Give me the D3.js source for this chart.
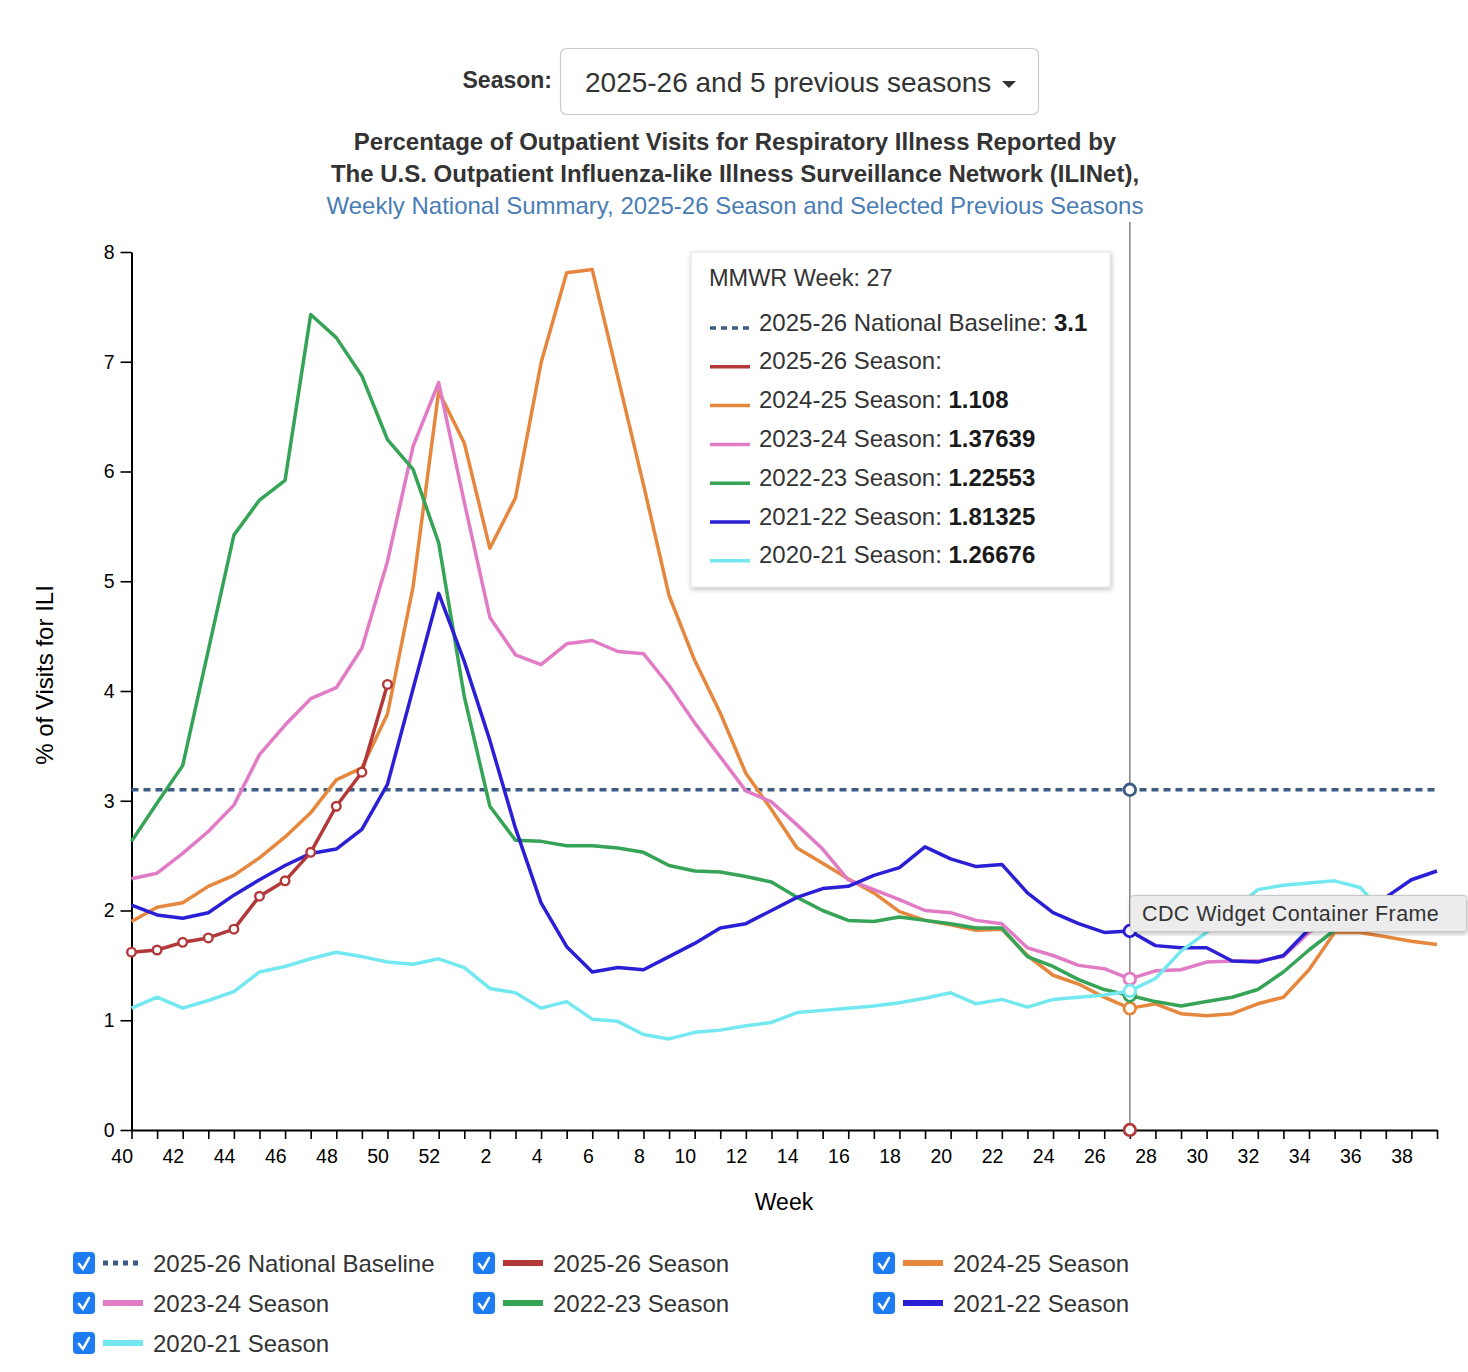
<!DOCTYPE html>
<html>
<head>
<meta charset="utf-8">
<script src="https://cdn.jsdelivr.net/npm/d3@7"></script>
<style>
  body { margin: 0; background: #fff; font-family: "Liberation Sans", Arial, sans-serif; }
</style>
</head>
<body>
<svg id="chart" width="1468" height="1372"></svg>
<script>
// MMWR weeks, season runs week 40 -> week 39
const weeks = [40,41,42,43,44,45,46,47,48,49,50,51,52,1,2,3,4,5,6,7,8,9,10,11,12,13,14,15,16,17,18,19,20,21,22,23,24,25,26,27,28,29,30,31,32,33,34,35,36,37,38,39];
const yTicks = [0,1,2,3,4,5,6,7,8];
const baselineValue = 3.1;
const hoverIndex = 39; // week 27

const s2526 = [1.62,1.64,1.71,1.75,1.83,2.13,2.27,2.53,2.95,3.26,4.06];
const s2425 = [1.90,2.03,2.07,2.22,2.32,2.48,2.67,2.89,3.19,3.30,3.79,4.95,6.73,6.26,5.30,5.76,6.99,7.81,7.84,6.86,5.88,4.87,4.28,3.80,3.25,2.92,2.57,2.43,2.29,2.16,1.99,1.91,1.87,1.82,1.83,1.59,1.41,1.33,1.21,1.108,1.15,1.06,1.04,1.06,1.15,1.21,1.46,1.80,1.80,1.76,1.72,1.69];
const s2324 = [2.29,2.34,2.52,2.72,2.96,3.42,3.69,3.93,4.03,4.39,5.18,6.23,6.81,5.72,4.67,4.33,4.24,4.43,4.46,4.36,4.34,4.05,3.71,3.40,3.09,2.99,2.78,2.56,2.28,2.19,2.10,2.00,1.98,1.91,1.88,1.66,1.59,1.50,1.47,1.37639,1.45,1.46,1.53,1.54,1.54,1.58,1.80,1.92,1.97,2.00,2.02,2.04];
const s2223 = [2.63,2.98,3.32,4.37,5.42,5.74,5.92,7.43,7.22,6.87,6.29,6.02,5.35,3.95,2.95,2.64,2.63,2.59,2.59,2.57,2.53,2.41,2.36,2.35,2.31,2.26,2.12,2.00,1.91,1.90,1.94,1.91,1.88,1.84,1.84,1.58,1.49,1.37,1.28,1.22553,1.17,1.13,1.17,1.21,1.28,1.44,1.64,1.82,1.88,1.93,1.97,2.00];
const s2122 = [2.05,1.96,1.93,1.98,2.14,2.28,2.41,2.52,2.56,2.74,3.15,4.02,4.89,4.27,3.55,2.75,2.07,1.67,1.44,1.48,1.46,1.58,1.70,1.84,1.88,2.00,2.12,2.20,2.22,2.32,2.39,2.58,2.47,2.40,2.42,2.16,1.98,1.88,1.80,1.81325,1.68,1.66,1.66,1.54,1.53,1.59,1.83,1.98,2.05,2.12,2.28,2.36];
const s2021 = [1.11,1.21,1.11,1.18,1.26,1.44,1.49,1.56,1.62,1.58,1.53,1.51,1.56,1.48,1.29,1.25,1.11,1.17,1.01,0.99,0.87,0.83,0.89,0.91,0.95,0.98,1.07,1.09,1.11,1.13,1.16,1.20,1.25,1.15,1.19,1.12,1.19,1.21,1.23,1.26676,1.38,1.63,1.80,2.00,2.19,2.23,2.25,2.27,2.21,1.95,1.87,1.84];

const seasonNames = ["2025-26 Season","2024-25 Season","2023-24 Season","2022-23 Season","2021-22 Season","2020-21 Season"];
const seasonValues = [s2526, s2425, s2324, s2223, s2122, s2021];
const seasonColors = ["#b2383a","#e6873e","#e27bc6","#36a456","#2b1fd6","#74e8f0"];
const tipValues = ["", "1.108", "1.37639", "1.22553", "1.81325", "1.26676"];
const baselineName = "2025-26 National Baseline";
const baselineColor = "#3b5b82";

const svg = d3.select("#chart");
const font = "'Liberation Sans', Arial, sans-serif";

const x = d3.scaleLinear().domain([0, weeks.length - 1]).range([131.5, 1437]);
const y = d3.scaleLinear().domain([0, 8]).range([1130, 252]);

// season selector
svg.append("text").attr("x", 552).attr("y", 88).attr("text-anchor", "end")
  .attr("font-size", 23).attr("font-weight", "bold").attr("fill", "#333").text("Season:");
svg.append("rect").attr("x", 560.5).attr("y", 48.5).attr("width", 478).attr("height", 66).attr("rx", 6)
  .attr("fill", "#fff").attr("stroke", "#ccc").attr("stroke-width", 1.2);
svg.append("text").attr("x", 585).attr("y", 92).attr("font-size", 28).attr("fill", "#333")
  .text("2025-26 and 5 previous seasons");
svg.append("path").attr("d", "M1002,81L1016,81L1009,88Z").attr("fill", "#333");

// titles
const titles = [
  ["Percentage of Outpatient Visits for Respiratory Illness Reported by", 150, "bold", "#333"],
  ["The U.S. Outpatient Influenza-like Illness Surveillance Network (ILINet),", 182, "bold", "#333"],
  ["Weekly National Summary, 2025-26 Season and Selected Previous Seasons", 214, "normal", "#4a7db3"]
];
titles.forEach(t => {
  svg.append("text").attr("x", 735).attr("y", t[1]).attr("text-anchor", "middle")
    .attr("font-size", 24).attr("font-weight", t[2]).attr("fill", t[3]).text(t[0]);
});

// axes
const yAxis = svg.append("g").attr("transform", "translate(131.5,0)")
  .call(d3.axisLeft(y).tickValues(yTicks).tickSize(11).tickSizeOuter(0).tickPadding(6));
const xAxis = svg.append("g").attr("transform", "translate(0,1130)")
  .call(d3.axisBottom(x).tickValues(d3.range(weeks.length)).tickSize(9).tickSizeOuter(0).tickPadding(10)
    .tickFormat(i => weeks[i] % 2 === 0 ? weeks[i] : ""));
[xAxis, yAxis].forEach(g => {
  g.attr("font-size", 19.5).attr("font-family", font);
  g.select(".domain").attr("stroke", "#000").attr("stroke-width", 2);
  g.selectAll(".tick line").attr("stroke", "#000").attr("stroke-width", 1.6);
  g.selectAll(".tick text").attr("fill", "#000");
});
xAxis.selectAll(".tick text").attr("text-anchor", "end").attr("dx", 1);

svg.append("text").attr("transform", "translate(53,675) rotate(-90)").attr("text-anchor", "middle")
  .attr("font-size", 24).attr("fill", "#000").text("% of Visits for ILI");
svg.append("text").attr("x", 784).attr("y", 1210).attr("text-anchor", "middle")
  .attr("font-size", 23).attr("fill", "#000").text("Week");

// baseline
svg.append("line").attr("x1", x(0)).attr("x2", x(weeks.length - 1))
  .attr("y1", y(baselineValue)).attr("y2", y(baselineValue))
  .attr("stroke", baselineColor).attr("stroke-width", 3.5).attr("stroke-dasharray", "7,5");

// hover rule
svg.append("line").attr("x1", x(hoverIndex)).attr("x2", x(hoverIndex)).attr("y1", 222).attr("y2", 1130)
  .attr("stroke", "#8a8a8a").attr("stroke-width", 1.6);

const line = d3.line().x((d, i) => x(i)).y(d => y(d));

// draw order: older lines under, current season on top
const order = [1, 2, 3, 4, 5, 0];
order.forEach(k => {
  svg.append("path").datum(seasonValues[k]).attr("fill", "none")
    .attr("stroke", seasonColors[k]).attr("stroke-width", 3.5).attr("stroke-linejoin", "round")
    .attr("d", line);
});

svg.append("g").selectAll("circle").data(s2526).enter().append("circle")
  .attr("cx", (d, i) => x(i)).attr("cy", d => y(d)).attr("r", 4.3)
  .attr("fill", "#fff").attr("stroke", seasonColors[0]).attr("stroke-width", 2.4);

// hover markers
const hoverPts = [[baselineValue, baselineColor]];
seasonValues.forEach((v, k) => hoverPts.push([v[hoverIndex] === undefined ? 0 : v[hoverIndex], seasonColors[k]]));
svg.append("g").selectAll("circle").data(hoverPts).enter().append("circle")
  .attr("cx", x(hoverIndex)).attr("cy", d => y(d[0])).attr("r", 5.8)
  .attr("fill", "#fff").attr("stroke", d => d[1]).attr("stroke-width", 2.8);

// tooltip
const defs = svg.append("defs");
const f = defs.append("filter").attr("id", "shadow").attr("x", "-10%").attr("y", "-10%").attr("width", "120%").attr("height", "120%");
f.append("feDropShadow").attr("dx", 1).attr("dy", 2).attr("stdDeviation", 2.5).attr("flood-color", "#000").attr("flood-opacity", 0.25);

const tip = svg.append("g").attr("transform", "translate(691,252)");
tip.append("rect").attr("width", 419).attr("height", 335).attr("fill", "#fff")
  .attr("stroke", "#e2e2e2").attr("filter", "url(#shadow)");
tip.append("text").attr("x", 18).attr("y", 34).attr("font-size", 23.5).attr("fill", "#333").text("MMWR Week: " + weeks[hoverIndex]);

const tipRows = [[baselineName, baselineColor, String(baselineValue), true]];
seasonNames.forEach((n, k) => tipRows.push([n, seasonColors[k], tipValues[k], false]));
tipRows.forEach((r, i) => {
  const cy = 70 + i * 38.8;
  tip.append("line").attr("x1", 19).attr("x2", 59).attr("y1", cy + 6).attr("y2", cy + 6)
    .attr("stroke", r[1]).attr("stroke-width", 3.5).attr("stroke-dasharray", r[3] ? "6,5" : null);
  const t = tip.append("text").attr("x", 68).attr("y", cy + 8.5).attr("font-size", 24).attr("fill", "#333");
  t.append("tspan").text(r[0] + ": ");
  t.append("tspan").attr("fill", "#1a1a1a").attr("font-weight", "bold").text(r[2]);
});

// browser title tooltip
svg.append("rect").attr("x", 1130.5).attr("y", 895.5).attr("width", 336).attr("height", 36).attr("rx", 3)
  .attr("fill", "#ececec").attr("stroke", "#c8c8c8").attr("filter", "url(#shadow)");
svg.append("text").attr("x", 1142).attr("y", 921).attr("font-size", 21.5).attr("fill", "#333")
  .attr("letter-spacing", 0.4).text("CDC Widget Container Frame");

// legend with checkboxes
const legendItems = [[baselineName, baselineColor, true]];
seasonNames.forEach((n, k) => legendItems.push([n, seasonColors[k], false]));
const leg = svg.append("g");
legendItems.forEach((it, i) => {
  const gx = 73 + (i % 3) * 400, gy = 1263 + Math.floor(i / 3) * 40;
  const g = leg.append("g").attr("transform", `translate(${gx},${gy})`);
  g.append("rect").attr("x", 0).attr("y", -11).attr("width", 22).attr("height", 22).attr("rx", 4).attr("fill", "#1d7cf2");
  g.append("path").attr("d", "M6,1L10,6L16,-5").attr("fill", "none").attr("stroke", "#fff")
    .attr("stroke-width", 2.6).attr("stroke-linecap", "round").attr("stroke-linejoin", "round");
  g.append("line").attr("x1", 30).attr("x2", 70).attr("y1", 0).attr("y2", 0)
    .attr("stroke", it[1]).attr("stroke-width", it[2] ? 5 : 6).attr("stroke-dasharray", it[2] ? "5,5" : null);
  g.append("text").attr("x", 80).attr("y", 8.5).attr("font-size", 24).attr("fill", "#333").text(it[0]);
});
</script>
</body>
</html>
